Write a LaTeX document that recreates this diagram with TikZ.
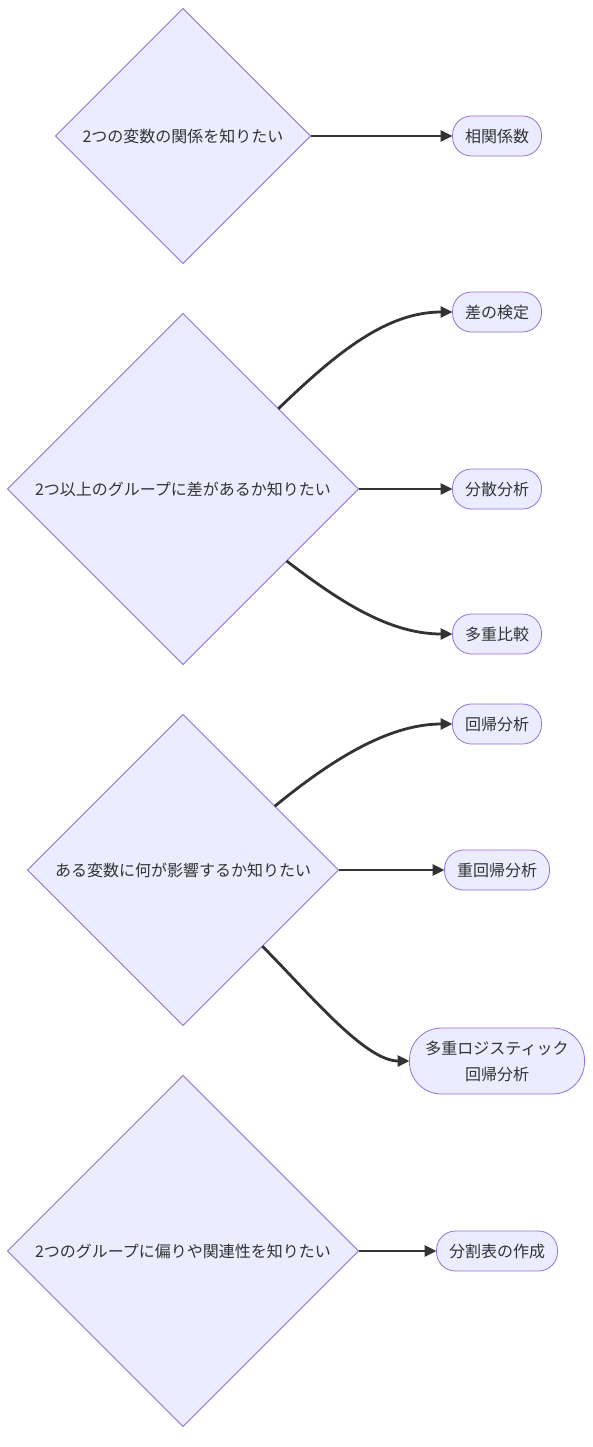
\documentclass[tikz,border=0pt]{standalone}
\usepackage{fontspec}
\setmainfont{Noto Sans CJK JP}
\usetikzlibrary{shapes.geometric,arrows.meta,calc}
\definecolor{nodefill}{HTML}{ECECFF}
\definecolor{nodeline}{HTML}{9370DB}
\definecolor{ink}{HTML}{333333}
\tikzset{
  decision/.style={diamond, aspect=1, draw=nodeline, fill=nodefill, line width=0.8pt,
    inner sep=0pt, outer sep=0pt, text=ink, font=\fontsize{16}{26}\selectfont},
  result/.style={rectangle, draw=nodeline, fill=nodefill, line width=0.8pt,
    rounded corners=19pt, minimum height=40pt, inner sep=0pt, outer sep=0pt,
    text=ink, font=\fontsize{16}{26}\selectfont, align=center},
  link/.style={draw=ink, line width=2.8pt, -{Triangle[length=12pt,width=11pt]}}
}
\begin{document}
\begin{tikzpicture}[x=1pt,y=-1pt]
\useasboundingbox (0,0) rectangle (592,1447);
% decisions
\node[decision, minimum width=255pt, minimum height=255pt] (d1) at (183,136) {2つの変数の関係を知りたい};
\node[decision, minimum width=351pt, minimum height=351pt] (d2) at (183,489) {2つ以上のグループに差があるか知りたい};
\node[decision, minimum width=311pt, minimum height=311pt] (d3) at (183,870) {ある変数に何が影響するか知りたい};
\node[decision, minimum width=351pt, minimum height=351pt] (d4) at (183,1251) {2つのグループに偏りや関連性を知りたい};
% results
\node[result, minimum width=89pt] (r1) at (497,136) {相関係数};
\node[result, minimum width=89pt] (r2) at (497,312) {差の検定};
\node[result, minimum width=89pt] (r3) at (497,489) {分散分析};
\node[result, minimum width=89pt] (r4) at (497,634) {多重比較};
\node[result, minimum width=89pt] (r5) at (497,724) {回帰分析};
\node[result, minimum width=105pt] (r6) at (497,870) {重回帰分析};
\node[result, minimum width=175pt, minimum height=66pt, rounded corners=32pt] (r7) at (497,1061) {多重ロジスティック\\回帰分析};
\node[result, minimum width=121pt] (r8) at (497,1251) {分割表の作成};
% start points on diamond borders
\coordinate (s2a) at ($(d2.north)!0.543!(d2.east)$);
\coordinate (s2b) at ($(d2.south)!0.59!(d2.east)$);
\coordinate (s3a) at ($(d3.north)!0.59!(d3.east)$);
\coordinate (s3b) at ($(d3.south)!0.51!(d3.east)$);
% links
\draw[link] (d1.east) -- (r1.west);
\draw[link] (s2a) .. controls ($(s2a)+(60,-58)$) and ($(r2.west)+(-65,0)$) .. (r2.west);
\draw[link] (d2.east) -- (r3.west);
\draw[link] (s2b) .. controls ($(s2b)+(50,38)$) and ($(r4.west)+(-65,0)$) .. (r4.west);
\draw[link] (s3a) .. controls ($(s3a)+(55,-45)$) and ($(r5.west)+(-65,0)$) .. (r5.west);
\draw[link] (d3.east) -- (r6.west);
\draw[link] (s3b) .. controls ($(s3b)+(45,45)$) and ($(r7.west)+(-45,0)$) .. (r7.west);
\draw[link] (d4.east) -- (r8.west);
\end{tikzpicture}
\end{document}
